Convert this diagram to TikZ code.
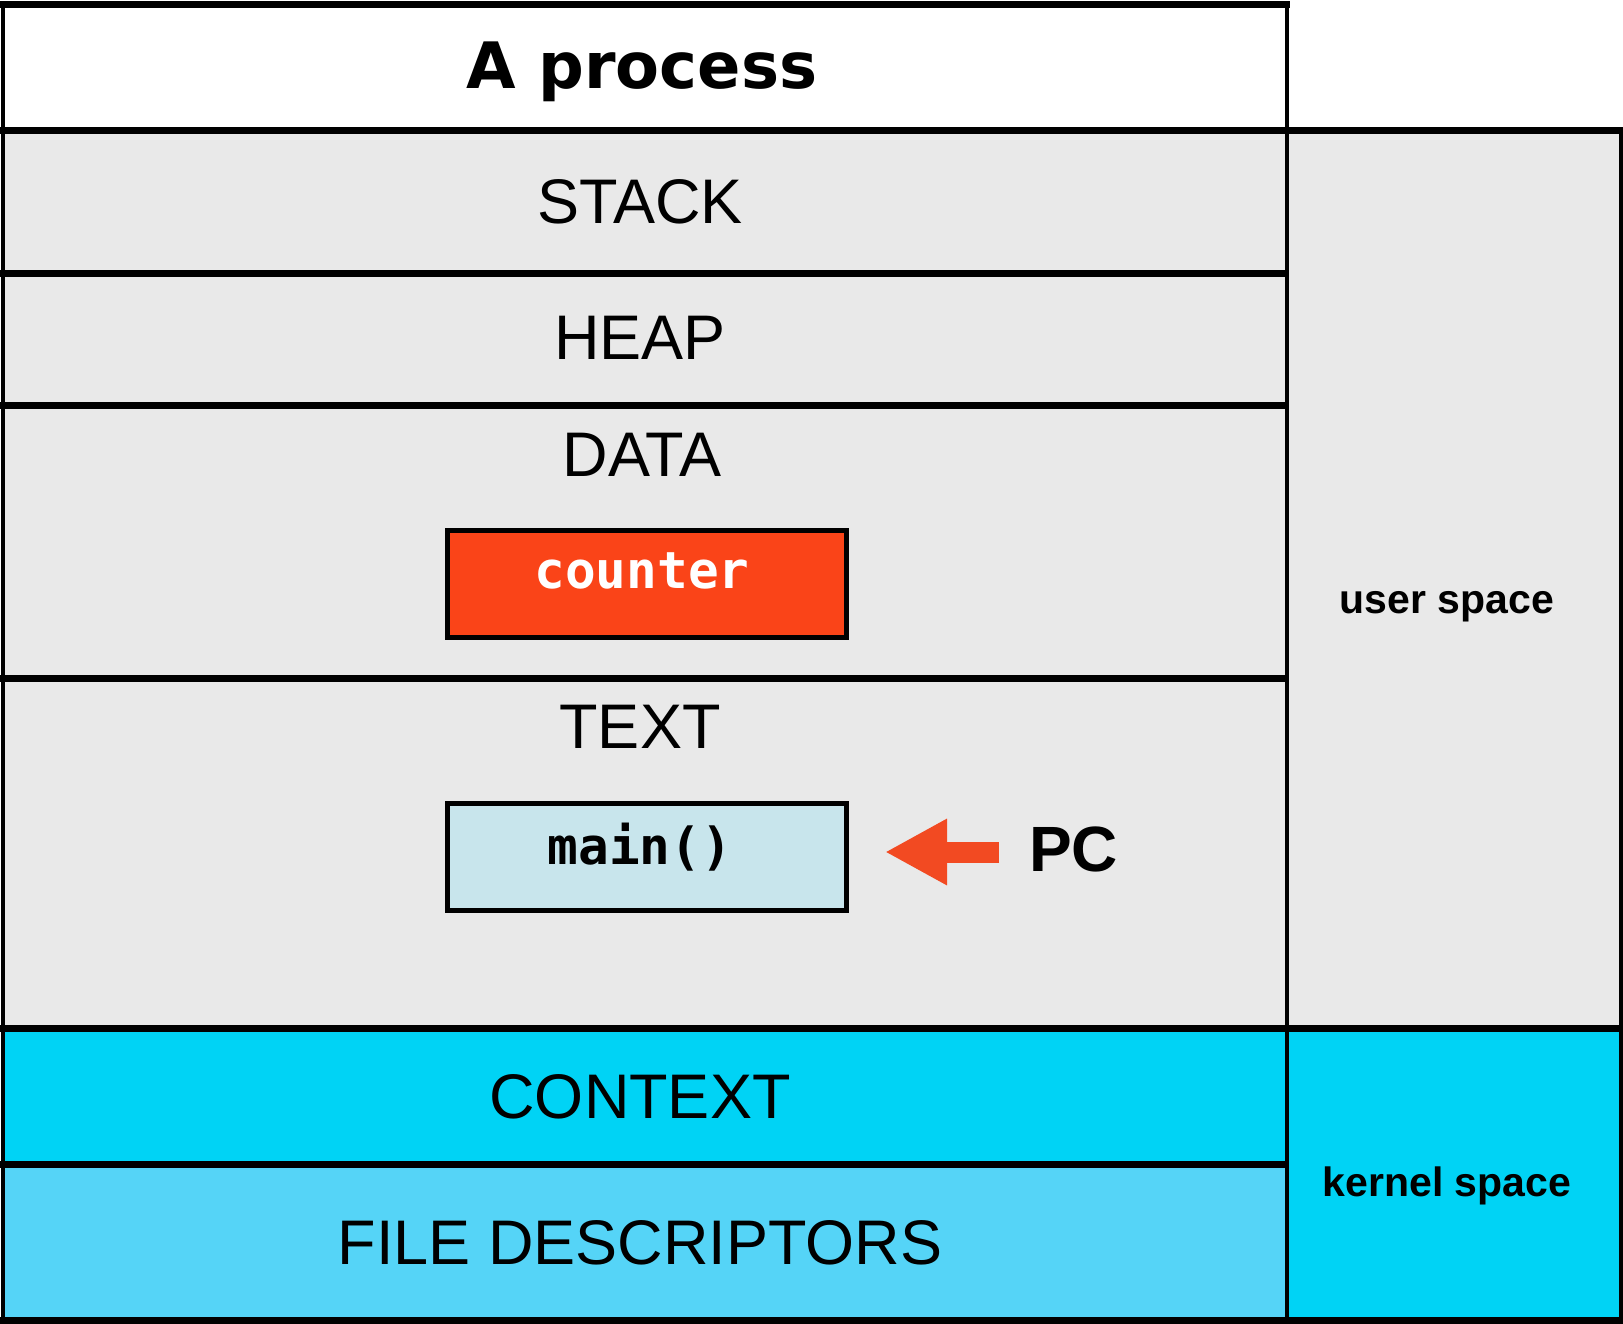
\documentclass[tikz,border=0pt]{standalone}
\usepackage{fontspec}
\setmainfont{Liberation Sans}
\newfontfamily\titlefont{DejaVu Sans}
\newfontfamily\codefont{DejaVu Sans Mono}
\usetikzlibrary{arrows.meta}
\definecolor{rowgray}{HTML}{E9E9E9}
\definecolor{kcyan}{HTML}{00D3F5}
\definecolor{fdcyan}{HTML}{55D4F7}
\definecolor{ctrred}{HTML}{FA4418}
\definecolor{mainblue}{HTML}{C8E5EC}
\definecolor{arrowred}{HTML}{F24A22}
\tikzset{
  seglabel/.style={font=\fontsize{63}{70}\selectfont, inner sep=0pt, anchor=center},
  sidelabel/.style={font=\fontsize{41}{48}\selectfont\bfseries, inner sep=0pt},
  codebox/.style={draw=black, line width=5pt, minimum width=399pt, minimum height=107pt, inner sep=0pt},
  hline/.style={line width=7pt},
  vline/.style={line width=4pt},
  pcarrow/.style={draw=arrowred, line width=21pt, -{Triangle[length=62pt, width=62pt]}}
}
\begin{document}
\begin{tikzpicture}[x=1pt,y=-1pt]
\useasboundingbox (0,0) rectangle (1623,1324);
% fills
\fill[white] (0,0) rectangle (1623,1324);
\fill[white] (3,5) rectangle (1287,131);
\fill[rowgray] (3,131) rectangle (1287,1028);
\fill[rowgray] (1287,131) rectangle (1620,1028);
\fill[kcyan] (3,1028) rectangle (1287,1164);
\fill[fdcyan] (3,1164) rectangle (1287,1320);
\fill[kcyan] (1287,1028) rectangle (1620,1320);
% lines
\draw[hline] (0,5) -- (1290,5);
\draw[hline] (0,131) -- (1623,131);
\draw[hline] (0,274) -- (1287,274);
\draw[hline] (0,405) -- (1287,405);
\draw[hline] (0,678) -- (1287,678);
\draw[hline] (0,1028) -- (1623,1028);
\draw[hline] (0,1164) -- (1287,1164);
\draw[hline] (0,1320.5) -- (1623,1320.5);
\draw[vline] (2.5,5) -- (2.5,1324);
\draw[vline] (1287,1) -- (1287,1324);
\draw[vline] (1620.5,131) -- (1620.5,1324);
% labels
\node[font=\titlefont\fontsize{64}{70}\selectfont\bfseries, inner sep=0pt] (title) at (642,72) {A process};
\node[seglabel] (stack) at (640,202) {STACK};
\node[seglabel] (heap) at (640,338) {HEAP};
\node[seglabel] (data) at (642,455) {DATA};
\node[seglabel] (text) at (640,727) {TEXT};
\node[seglabel] (context) at (640,1097) {CONTEXT};
\node[seglabel] (fd) at (640,1243) {FILE DESCRIPTORS};
\node[sidelabel] (user) at (1447,607) {user space};
\node[sidelabel] (kernel) at (1447,1186) {kernel space};
% boxes
\node[codebox, fill=ctrred] (counter) at (646.5,583.5) {};
\node[font=\codefont\fontsize{51}{56}\selectfont\bfseries, text=white, inner sep=0pt] (countertext) at (642,571) {counter};
\node[codebox, fill=mainblue] (main) at (646.5,856.5) {};
\node[font=\codefont\fontsize{51}{56}\selectfont\bfseries, inner sep=0pt] (maintext) at (640,847) {main()};
% PC
\node[font=\fontsize{64}{70}\selectfont\bfseries, inner sep=0pt, anchor=west] (pc) at (1029,849) {PC};
\coordinate (pctip) at (885,852);
\draw[pcarrow] (pc.west |- pctip) ++(-30,0) coordinate (pctail) (pctail) -- (pctip);
\end{tikzpicture}
\end{document}
